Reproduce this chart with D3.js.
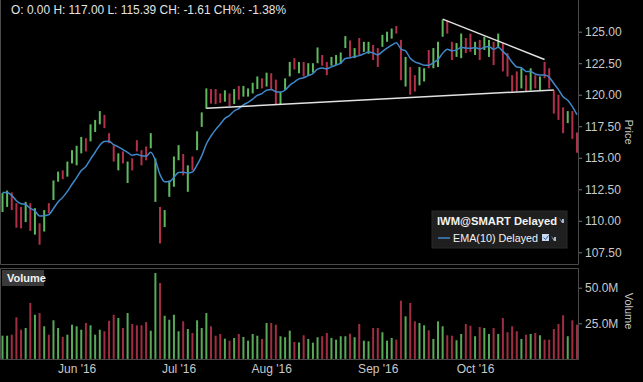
<!DOCTYPE html>
<html><head><meta charset="utf-8">
<script src="https://cdn.jsdelivr.net/npm/d3@7"></script>
<style>
html,body{margin:0;padding:0;background:#000;}
svg{display:block;font-family:"Liberation Sans",Arial,sans-serif;}
</style></head><body>
<svg id="chart" width="643" height="382"></svg>
<script>
// ---------- data ----------
const dates = [
"2016-05-09","2016-05-10","2016-05-11","2016-05-12","2016-05-13","2016-05-16","2016-05-17","2016-05-18","2016-05-19","2016-05-20",
"2016-05-23","2016-05-24","2016-05-25","2016-05-26","2016-05-27","2016-05-31",
"2016-06-01","2016-06-02","2016-06-03","2016-06-06","2016-06-07","2016-06-08","2016-06-09","2016-06-10","2016-06-13","2016-06-14",
"2016-06-15","2016-06-16","2016-06-17","2016-06-20","2016-06-21","2016-06-22","2016-06-23","2016-06-24","2016-06-27","2016-06-28",
"2016-06-29","2016-06-30",
"2016-07-01","2016-07-05","2016-07-06","2016-07-07","2016-07-08","2016-07-11","2016-07-12","2016-07-13","2016-07-14","2016-07-15",
"2016-07-18","2016-07-19","2016-07-20","2016-07-21","2016-07-22","2016-07-25","2016-07-26","2016-07-27","2016-07-28","2016-07-29",
"2016-08-01","2016-08-02","2016-08-03","2016-08-04","2016-08-05","2016-08-08","2016-08-09","2016-08-10","2016-08-11","2016-08-12",
"2016-08-15","2016-08-16","2016-08-17","2016-08-18","2016-08-19","2016-08-22","2016-08-23","2016-08-24","2016-08-25","2016-08-26",
"2016-08-29","2016-08-30","2016-08-31",
"2016-09-01","2016-09-02","2016-09-06","2016-09-07","2016-09-08","2016-09-09","2016-09-12","2016-09-13","2016-09-14","2016-09-15",
"2016-09-16","2016-09-19","2016-09-20","2016-09-21","2016-09-22","2016-09-23","2016-09-26","2016-09-27","2016-09-28","2016-09-29",
"2016-09-30",
"2016-10-03","2016-10-04","2016-10-05","2016-10-06","2016-10-07","2016-10-10","2016-10-11","2016-10-12","2016-10-13","2016-10-14",
"2016-10-17","2016-10-18","2016-10-19","2016-10-20","2016-10-21","2016-10-24","2016-10-25","2016-10-26","2016-10-27","2016-10-28",
"2016-10-31","2016-11-01","2016-11-02"
];
const openP = [
111.0,111.4,112.0,111.2,110.9,110.2,111.1,109.2,109.6,109.4,
111.2,111.8,113.2,113.9,113.7,114.7,114.6,115.5,116.4,116.5,
117.2,117.8,118.3,116.8,115.8,114.2,115.3,113.2,114.8,116.2,
115.4,115.7,115.9,111.6,110.9,109.6,112.0,112.9,115.0,115.1,
112.5,114.9,115.7,117.6,119.0,120.3,120.3,120.0,119.6,120.0,
119.4,120.5,120.0,120.0,120.2,120.6,121.2,120.8,121.5,121.0,
119.4,120.5,121.6,122.8,121.8,122.4,121.7,121.9,122.6,123.0,
122.4,122.4,122.5,122.6,123.8,124.1,123.0,124.3,123.5,123.4,
123.8,123.5,123.9,124.3,124.5,125.35,124.2,120.9,122.0,121.5,
120.9,121.2,123.4,122.3,122.4,124.7,125.7,124.0,123.1,123.1,
124.3,124.6,123.3,124.2,123.7,123.2,124.0,123.8,123.9,123.1,
121.4,121.7,120.6,121.4,120.5,121.4,120.5,122.4,121.9,120.2,
119.8,118.8,117.9,118.5,116.9
];
const highP = [
112.2,112.4,112.25,111.4,111.1,111.5,111.4,111.0,109.8,110.85,
111.4,113.2,113.9,114.0,114.7,115.6,115.95,116.65,116.55,117.65,
118.0,118.7,118.4,116.95,116.0,115.35,115.5,114.7,114.95,116.4,
115.6,115.9,116.95,114.95,111.1,110.85,113.2,115.1,116.0,115.3,
114.4,115.1,117.1,118.6,120.5,120.45,120.45,120.1,120.35,120.1,
120.45,120.7,120.7,120.5,120.95,121.45,121.3,121.75,121.7,121.2,
120.25,121.3,122.6,122.9,122.6,122.6,122.5,122.5,123.75,123.15,
122.6,123.0,123.15,123.35,124.65,124.3,123.7,124.5,124.2,124.2,
123.95,123.7,124.75,125.0,125.25,125.45,124.35,123.0,122.2,121.55,
122.2,122.1,123.55,123.7,124.2,125.95,125.9,124.2,124.1,124.85,
124.5,124.85,124.2,124.35,124.6,124.35,124.2,124.85,124.1,123.3,
121.55,121.85,122.1,121.55,122.1,121.55,121.45,122.6,122.1,120.35,
120.0,119.0,118.7,118.7,117.0
];
const lowP = [
110.7,111.1,110.85,109.45,109.4,109.9,109.2,108.9,108.1,109.15,
110.6,111.65,113.1,113.3,113.5,114.55,114.4,115.35,115.5,116.3,
117.05,117.65,117.35,116.15,114.7,114.0,114.55,113.0,114.0,115.5,
114.4,114.8,115.75,111.5,108.2,109.5,111.9,112.7,114.8,113.6,
112.3,114.0,115.6,117.45,118.9,119.3,119.25,119.35,119.45,119.1,
119.25,119.6,119.85,119.85,120.1,120.45,120.5,120.65,120.35,119.25,
119.25,120.35,121.45,122.0,121.7,121.45,121.55,121.75,122.5,122.3,
121.55,122.3,122.35,122.45,123.7,123.0,122.9,123.15,123.4,123.25,
122.75,122.2,123.8,124.2,124.45,124.85,121.15,120.65,120.0,120.25,
120.75,121.05,122.1,122.1,122.2,124.6,124.85,122.75,123.0,122.9,
123.3,123.4,123.15,122.75,123.55,123.0,122.35,123.7,121.85,121.45,
120.25,120.25,120.5,120.25,120.35,120.5,120.35,121.3,120.5,118.5,
118.0,116.95,117.75,116.5,115.39
];
const closeP = [
112.0,112.2,111.0,109.7,110.3,111.0,109.6,109.9,108.5,110.5,
110.9,113.2,113.8,113.5,114.5,115.4,115.8,116.5,115.8,117.5,
117.9,118.5,117.6,116.4,114.8,115.1,114.7,114.4,114.2,115.6,
114.6,115.0,116.8,111.9,108.6,110.6,113.1,115.0,115.6,113.9,
113.5,114.3,116.9,118.4,120.3,119.6,119.5,119.6,120.2,119.4,
120.3,119.8,120.5,120.3,120.8,121.3,120.7,121.6,120.6,119.5,
120.1,121.1,122.4,122.2,122.4,121.7,122.3,122.4,123.6,122.5,
121.8,122.9,123.0,123.2,124.5,123.2,123.5,123.4,123.9,124.0,
123.0,122.5,124.6,124.9,125.0,125.0,121.4,122.8,120.3,121.3,
121.9,121.7,122.3,123.5,123.9,125.5,125.1,122.9,123.9,124.6,
123.5,123.6,124.0,123.1,124.4,124.1,122.6,124.5,121.95,121.5,
120.3,120.5,121.9,120.5,121.8,120.8,121.2,121.5,120.6,118.7,
118.2,117.3,118.3,116.8,115.5
];
// volume in millions of shares
const volumeM = [
16.3,16.3,17.0,29.2,20.5,21.7,39.3,31.0,32.2,22.9,
17.0,27.1,21.7,15.4,17.0,24.0,22.9,20.5,25.2,23.6,
17.0,20.5,19.4,26.8,31.0,28.7,21.7,32.2,24.5,23.6,
23.6,25.9,19.8,60.3,53.3,30.3,27.5,31.0,19.4,26.4,
21.0,18.2,27.1,21.7,32.2,22.9,16.3,17.5,14.2,12.8,
14.7,17.5,15.4,12.8,17.5,16.3,14.0,25.2,25.2,24.0,
15.9,15.2,19.8,11.9,11.6,16.6,14.0,11.4,15.2,15.9,
18.2,14.7,13.5,15.9,15.9,17.7,15.2,24.5,12.8,12.4,
21.7,21.7,18.7,12.8,14.7,13.5,40.9,29.9,39.3,26.4,
25.2,23.6,20.1,14.0,26.4,22.9,16.6,16.3,13.1,17.5,
24.5,23.3,15.9,22.4,21.7,17.5,21.7,17.5,28.7,18.7,
22.9,19.4,14.0,17.0,17.5,18.2,16.6,13.5,13.5,21.0,
24.5,30.6,15.9,27.1,24.0
];
const priceTicks = [107.5,110,112.5,115,117.5,120,122.5,125];
const volumeTicks = [25,50];
const monthTickDates = ["2016-06-01","2016-07-01","2016-08-01","2016-09-01","2016-10-03"];
const monthTickLabels = ["Jun '16","Jul '16","Aug '16","Sep '16","Oct '16"];
const emaPeriod = 10;
const emaSeed = 112.3; // EMA value entering the window
// drawn trend lines: [startDate, startPrice, endDate, endPrice]
const trendLines = [
  ["2016-07-12",118.92,"2016-10-26",120.37],
  ["2016-09-22",126.0,"2016-10-24",122.8]
];
const headerText = "O: 0.00 H: 117.00 L: 115.39 CH: -1.61 CH%: -1.38%";
const legendTitle = "IWM@SMART Delayed";
const legendEma = "EMA(10) Delayed";

// ---------- build ----------
const bars = dates.map((d,i)=>({d,o:openP[i],h:highP[i],l:lowP[i],c:closeP[i],v:volumeM[i],up:closeP[i]>=openP[i]}));
const ema = [];
{ let e = emaSeed; const k = 2/(emaPeriod+1);
  bars.forEach(b=>{ e = e + k*(b.c - e); ema.push({d:b.d, v:e}); }); }

const svg = d3.select("#chart");
const W = 643, H = 382;
svg.append("rect").attr("width",W).attr("height",H).attr("fill","#000");

const x = d3.scalePoint().domain(dates).range([2.5, 577]).padding(0);
const y = d3.scaleLinear().domain([107.5,125]).range([252.3,31.7]);
const yv = d3.scaleLinear().domain([0,50]).range([358.9,287.7]);

const GREEN = "#5fba5f", RED = "#b3304a";
const VGREEN = "#58aa58", VRED = "#a02e42";
const FRAME = "#4a4a4a", TXT = "#c9c9c9";

// panel frames
svg.append("path").attr("d","M0.5,0 V264.5 H578.5 V0").attr("fill","none").attr("stroke",FRAME);
svg.append("path").attr("d","M0.5,268.5 H578.5 V359.5 H0.5 Z").attr("fill","none").attr("stroke",FRAME);

// header
svg.append("text").attr("x",11).attr("y",14).attr("fill","#e4e4e4").attr("font-size",12)
  .attr("textLength",275).attr("lengthAdjust","spacingAndGlyphs").text(headerText);

// price bars
const pg = svg.append("g");
pg.selectAll("line.hl").data(bars).join("line").attr("class","hl")
  .attr("x1",d=>x(d.d)).attr("x2",d=>x(d.d))
  .attr("y1",d=>y(d.h)).attr("y2",d=>y(d.l))
  .attr("stroke",d=>d.up?GREEN:RED).attr("stroke-width",2);

// EMA
svg.append("path").datum(ema)
  .attr("d", d3.line().x(d=>x(d.d)).y(d=>y(d.v)).curve(d3.curveMonotoneX))
  .attr("fill","none").attr("stroke","#3f88c9").attr("stroke-width",1.5);

// trend lines
svg.selectAll("line.tl").data(trendLines).join("line").attr("class","tl")
  .attr("x1",d=>x(d[0])).attr("y1",d=>y(d[1])).attr("x2",d=>x(d[2])).attr("y2",d=>y(d[3]))
  .attr("stroke","#e2e2e2").attr("stroke-width",1.5);

// price axis
const ya = svg.append("g").attr("transform","translate(579,0)")
  .call(d3.axisRight(y).tickValues(priceTicks).tickFormat(d3.format(".2f")).tickSize(3).tickPadding(3));
ya.select(".domain").remove();
ya.selectAll("line").attr("stroke","#777");
ya.selectAll("text").attr("fill",TXT).attr("font-size",12).attr("font-family","Liberation Sans, Arial, sans-serif");
svg.append("text").attr("transform","translate(625,132) rotate(90)").attr("text-anchor","middle")
  .attr("fill",TXT).attr("font-size",11).text("Price");

// legend
const lg = svg.append("g");
lg.append("rect").attr("x",432).attr("y",211).attr("width",135).attr("height",37).attr("fill","#1f1f1f").attr("stroke","#2a2a2a");
lg.append("text").attr("x",437).attr("y",225).attr("fill","#f2f2f2").attr("font-size",11.2).attr("font-weight","bold")
  .attr("textLength",120).attr("lengthAdjust","spacingAndGlyphs").text(legendTitle);
lg.append("line").attr("x1",438).attr("x2",450).attr("y1",238).attr("y2",238).attr("stroke","#3f88c9").attr("stroke-width",1.5);
lg.append("text").attr("x",453).attr("y",242).attr("fill","#f2f2f2").attr("font-size",11.2)
  .attr("textLength",85).attr("lengthAdjust","spacingAndGlyphs").text(legendEma);
lg.append("rect").attr("x",542).attr("y",234).attr("width",7).attr("height",7).attr("fill","#c8d8f0");
lg.append("path").attr("d","M543.5,237.5 l2,2 l3,-4").attr("fill","none").attr("stroke","#2c5aa0").attr("stroke-width",1);
function icon(cx,cy){ lg.append("path").attr("d",`M${cx-3},${cy-2} l3,3 l0,-2 l2,0 l0,4 l-4,0 l2,0 z`).attr("fill","#a8b8d0"); }
icon(562,220); icon(554,238);

// volume panel
svg.append("rect").attr("x",2).attr("y",270).attr("width",42).attr("height",16).attr("fill","#3a3a3a");
svg.append("text").attr("x",7).attr("y",282).attr("fill","#f2f2f2").attr("font-size",11).attr("font-weight","bold").text("Volume");
svg.append("g").selectAll("rect").data(bars).join("rect")
  .attr("x",d=>x(d.d)-1).attr("width",2)
  .attr("y",d=>yv(d.v)).attr("height",d=>yv(0)-yv(d.v))
  .attr("fill",d=>d.up?VGREEN:VRED);
const va = svg.append("g").attr("transform","translate(579,0)")
  .call(d3.axisRight(yv).tickValues(volumeTicks).tickFormat(d=>d.toFixed(1)+"M").tickSize(3).tickPadding(3));
va.select(".domain").remove();
va.selectAll("line").attr("stroke","#777");
va.selectAll("text").attr("fill",TXT).attr("font-size",12).attr("font-family","Liberation Sans, Arial, sans-serif");
svg.append("text").attr("transform","translate(625,311) rotate(90)").attr("text-anchor","middle")
  .attr("fill",TXT).attr("font-size",11).text("Volume");

// month axis
const xa = svg.append("g").attr("transform","translate(0,360)")
  .call(d3.axisBottom(x).tickValues(monthTickDates).tickFormat((d,i)=>monthTickLabels[i]).tickSize(0).tickPadding(4));
xa.select(".domain").remove();
xa.selectAll("text").attr("fill",TXT).attr("font-size",12).attr("font-family","Liberation Sans, Arial, sans-serif");
</script>
</body></html>
